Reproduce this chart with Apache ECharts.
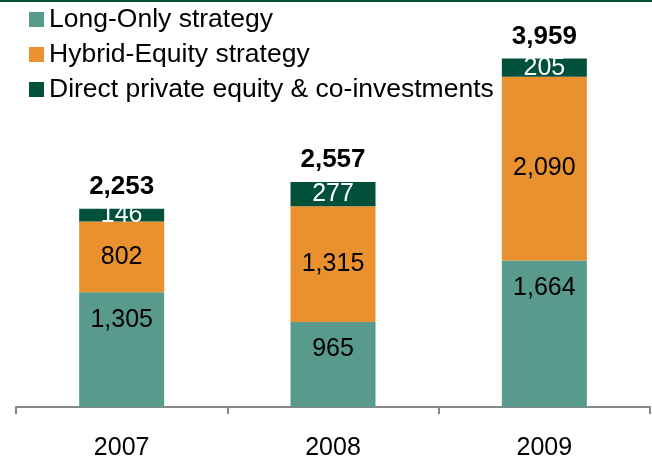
<!DOCTYPE html>
<html><head><meta charset="utf-8">
<script src="https://cdn.jsdelivr.net/npm/echarts@6/dist/echarts.min.js"></script>
<style>html,body{margin:0;padding:0;background:#fff}#c{width:652px;height:461px}</style>
</head><body><div id="c"></div>
<script>
const categories = ['2007', '2008', '2009'];
const longOnly = [1305, 965, 1664];
const hybridEquity = [802, 1315, 2090];
const directPE = [146, 277, 205];
const totals = [2253, 2557, 3959];
const seriesNames = ['Long-Only strategy', 'Hybrid-Equity strategy', 'Direct private equity & co-investments'];

const fmt = v => v.toLocaleString('en-US');
const FONT = 'Liberation Sans, Arial, sans-serif';
const BW = 85;

const chart = echarts.init(document.getElementById('c'));
chart.setOption({
  animation: false,
  textStyle: { fontFamily: FONT },
  graphic: [{ type: 'rect', shape: { x: 0, y: 0, width: 652, height: 2 }, style: { fill: '#00503a' } }],
  legend: {
    orient: 'vertical', left: 24, top: 1, itemWidth: 15, itemHeight: 15, itemGap: 8,
    icon: 'rect',
    textStyle: { fontSize: 26.5, lineHeight: 26.5, color: '#000', fontFamily: FONT, padding: [0, 0, 0, 0] },
    data: seriesNames
  },
  grid: { left: 16, right: 2, top: 55, bottom: 54 },
  xAxis: {
    type: 'category', data: categories,
    axisLine: { lineStyle: { color: '#888', width: 2 } },
    axisTick: { show: true, length: 7, lineStyle: { color: '#888', width: 2 } },
    axisLabel: { fontSize: 25, color: '#000', margin: 29, fontFamily: FONT }
  },
  yAxis: { type: 'value', min: 0, max: 4000, show: false, splitLine: { show: false } },
  series: [
    {
      name: 'total', type: 'bar', data: totals, barWidth: BW, barGap: '-100%', z: 1,
      itemStyle: { color: 'rgba(0,0,0,0)' },
      label: { show: true, position: 'top', distance: 9, fontSize: 26, fontWeight: 'bold', color: '#000', formatter: p => fmt(p.value) },
      emphasis: { disabled: true }, legendHoverLink: false
    },
    {
      name: seriesNames[0], type: 'bar', stack: 's', data: longOnly, barWidth: BW, z: 2,
      itemStyle: { color: '#589a8b' },
      label: { show: true, position: 'insideTop', distance: 15, fontSize: 25, color: '#000', formatter: p => fmt(p.value) }
    },
    {
      name: seriesNames[1], type: 'bar', stack: 's', data: hybridEquity, barWidth: BW, z: 2,
      itemStyle: { color: '#ea912f' },
      label: { show: true, position: 'inside', fontSize: 25, color: '#000', formatter: p => fmt(p.value) }
    },
    {
      name: seriesNames[2], type: 'bar', stack: 's', data: directPE, barWidth: BW, z: 2,
      itemStyle: { color: '#00503a' },
      label: { show: true, position: 'inside', fontSize: 25, color: '#fff', formatter: p => fmt(p.value) }
    }
  ]
});
</script></body></html>
